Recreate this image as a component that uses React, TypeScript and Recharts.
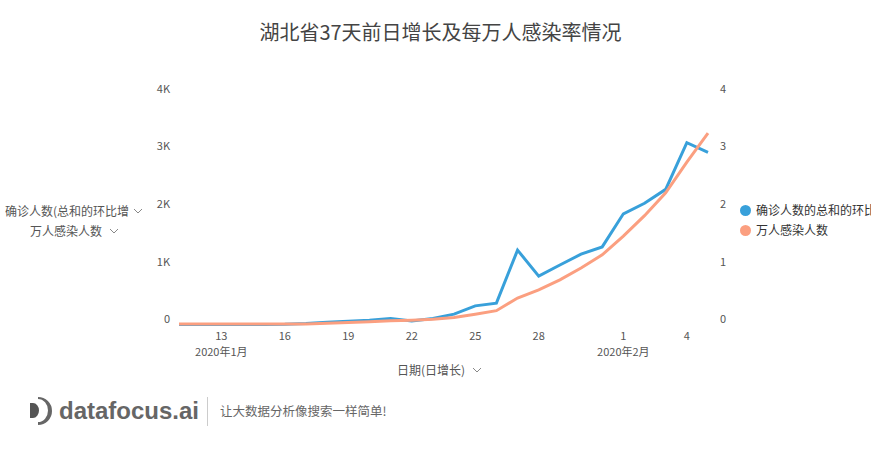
import React from 'react';
import { LineChart, Line, XAxis, YAxis } from 'recharts';

const dates = [
  '2020-01-11', '2020-01-12', '2020-01-13', '2020-01-14', '2020-01-15', '2020-01-16',
  '2020-01-17', '2020-01-18', '2020-01-19', '2020-01-20', '2020-01-21', '2020-01-22',
  '2020-01-23', '2020-01-24', '2020-01-25', '2020-01-26', '2020-01-27', '2020-01-28',
  '2020-01-29', '2020-01-30', '2020-01-31', '2020-02-01', '2020-02-02', '2020-02-03',
  '2020-02-04', '2020-02-05',
];
const dailyGrowth = [
  0, 0, 0, 0, 0, 4, 17, 40, 55, 72, 105, 60, 105, 180, 323, 371, 1291, 840, 1032, 1220,
  1347, 1921, 2103, 2345, 3156, 2987,
];
const perTenThousand = [
  0.007, 0.007, 0.007, 0.007, 0.007, 0.008, 0.01, 0.02, 0.033, 0.046, 0.063, 0.075, 0.093,
  0.123, 0.178, 0.24, 0.459, 0.601, 0.775, 0.981, 1.209, 1.534, 1.889, 2.285, 2.819, 3.323,
];
const xTickDates = ['2020-01-13', '2020-01-16', '2020-01-19', '2020-01-22', '2020-01-25', '2020-01-28', '2020-02-01', '2020-02-04'];
const monthLabels: Record<string, string> = { '2020-01-13': '2020年1月', '2020-02-01': '2020年2月' };
const leftTicks = [0, 1000, 2000, 3000, 4000];
const rightTicks = [0, 1, 2, 3, 4];

const seriesNames = ['确诊人数的总和的环比增长', '万人感染人数'];
const leftTitles = ['确诊人数(总和的环比增长)', '万人感染人数'];
const title = '湖北省37天前日增长及每万人感染率情况';
const xTitle = '日期(日增长)';

const BLUE = '#38a0da';
const ORANGE = '#fb9f80';
const FONT = '"Noto Sans CJK SC", "Noto Sans", sans-serif';

const data = dates.map((d, i) => ({ date: d, growth: dailyGrowth[i], rate: perTenThousand[i] }));

const fmtK = (v: number) => (v === 0 ? '0' : `${v / 1000}K`);

const LeftTick = (props: any) => {
  const { y, payload } = props;
  return (
    <text x={170} y={y - 5} dy="0.35em" textAnchor="end" fontSize={11} fill="#555" fontFamily={FONT}>
      {fmtK(payload.value)}
    </text>
  );
};
const RightTick = (props: any) => {
  const { y, payload } = props;
  return (
    <text x={720} y={y - 5} dy="0.35em" textAnchor="start" fontSize={11} fill="#555" fontFamily={FONT}>
      {payload.value}
    </text>
  );
};
const XTick = (props: any) => {
  const { x, payload } = props;
  const v: string = payload.value;
  if (!xTickDates.includes(v)) return null;
  const day = String(parseInt(v.slice(8), 10));
  return (
    <g>
      <text x={x} y={336} dy="0.35em" textAnchor="middle" fontSize={11} fill="#555" fontFamily={FONT}>
        {day}
      </text>
      {monthLabels[v] ? (
        <text x={x} y={352} dy="0.35em" textAnchor="middle" fontSize={11} fill="#555" fontFamily={FONT}>
          {monthLabels[v]}
        </text>
      ) : null}
    </g>
  );
};

const Chevron = ({ left, top }: { left: number; top: number }) => (
  <svg style={{ position: 'absolute', left, top }} width={10} height={6}>
    <polyline points="1,1 5,5 9,1" fill="none" stroke="#888" strokeWidth={1} />
  </svg>
);

export default function App() {
  return (
    <div style={{ position: 'absolute', left: 0, top: 0, width: 881, height: 476, background: '#fff', fontFamily: FONT, overflow: 'hidden' }}>
      <LineChart width={881} height={476} data={data} margin={{ top: 94, right: 0, bottom: 121.5, left: 1 }}>
        <XAxis dataKey="date" interval={0} axisLine={false} tickLine={false} tick={<XTick />} height={30} />
        <YAxis yAxisId="left" orientation="left" width={178} domain={[0, 4000]} ticks={leftTicks} axisLine={false} tickLine={false} tick={<LeftTick />} />
        <YAxis yAxisId="right" orientation="right" width={173} domain={[0, 4]} ticks={rightTicks} axisLine={false} tickLine={false} tick={<RightTick />} />
        <Line yAxisId="left" type="linear" dataKey="growth" stroke={BLUE} strokeWidth={3} dot={false} isAnimationActive={false} />
        <Line yAxisId="right" type="linear" dataKey="rate" stroke={ORANGE} strokeWidth={3} dot={false} isAnimationActive={false} />
      </LineChart>

      <div style={{ position: 'absolute', left: 0, top: 20, width: 881, textAlign: 'center', fontSize: 20, color: '#444', lineHeight: '24px' }}>
        {title}
      </div>

      <div style={{ position: 'absolute', left: 5, top: 203, width: 124, overflow: 'hidden', whiteSpace: 'nowrap', fontSize: 12, color: '#555', lineHeight: '16px' }}>
        {leftTitles[0]}
      </div>
      <Chevron left={133} top={208} />
      <div style={{ position: 'absolute', left: 30, top: 223, whiteSpace: 'nowrap', fontSize: 12, color: '#555', lineHeight: '16px' }}>
        {leftTitles[1]}
      </div>
      <Chevron left={109} top={228} />

      <div style={{ position: 'absolute', left: 397, top: 362, whiteSpace: 'nowrap', fontSize: 12, color: '#555', lineHeight: '16px' }}>
        {xTitle}
      </div>
      <Chevron left={472} top={367} />

      <div style={{ position: 'absolute', left: 740, top: 202, width: 131, overflow: 'hidden', whiteSpace: 'nowrap', fontSize: 12, color: '#333', lineHeight: '16px' }}>
        <span style={{ display: 'inline-block', width: 11, height: 11, borderRadius: 6, background: BLUE, marginRight: 5, verticalAlign: -1 }} />
        {seriesNames[0]}
      </div>
      <div style={{ position: 'absolute', left: 740, top: 222, whiteSpace: 'nowrap', fontSize: 12, color: '#333', lineHeight: '16px' }}>
        <span style={{ display: 'inline-block', width: 11, height: 11, borderRadius: 6, background: ORANGE, marginRight: 5, verticalAlign: -1 }} />
        {seriesNames[1]}
      </div>

      <svg style={{ position: 'absolute', left: 0, top: 390 }} width={60} height={45}>
        <path d="M30,13 L33,13 A6,7.5 0 0 1 33,28 L30,28 Z" fill="#555" />
        <path d="M38,7 A14,14 0 0 1 38,35 L38,32 A10,11.5 0 0 0 38,9 Z" fill="#666" />
      </svg>
      <div style={{ position: 'absolute', left: 59, top: 396, fontFamily: '"Liberation Sans", Arial, sans-serif', fontWeight: 'bold', fontSize: 24, color: '#666', lineHeight: '30px' }}>
        datafocus.ai
      </div>
      <div style={{ position: 'absolute', left: 207, top: 397, width: 1, height: 29, background: '#ccc' }} />
      <div style={{ position: 'absolute', left: 220, top: 403, whiteSpace: 'nowrap', fontSize: 12.5, color: '#666', lineHeight: '16px' }}>
        让大数据分析像搜索一样简单!
      </div>
    </div>
  );
}
